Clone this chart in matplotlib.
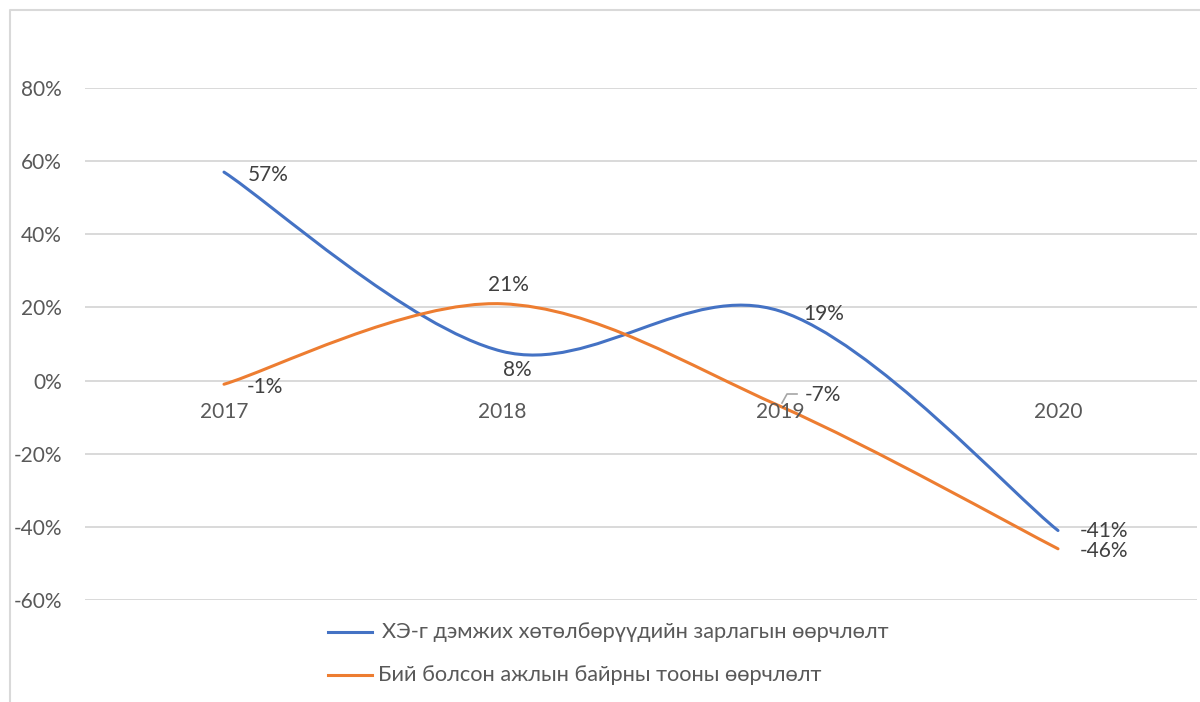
import numpy as np
import matplotlib
matplotlib.use('Agg')
import matplotlib.pyplot as plt
from matplotlib.path import Path
from matplotlib.patches import PathPatch
from matplotlib.lines import Line2D

plt.rcParams['font.family'] = ['Lato', 'DejaVu Sans']

# data
years = ['2017', '2018', '2019', '2020']
spend_change = [0.57, 0.08, 0.19, -0.41]
jobs_change = [-0.01, 0.21, -0.07, -0.46]
spend_labels = ['57%', '8%', '19%', '-41%']
jobs_labels = ['-1%', '21%', '-7%', '-46%']
series_names = ['ХЭ-г дэмжих хөтөлбөрүүдийн зарлагын өөрчлөлт',
                'Бий болсон ажлын байрны тооны өөрчлөлт']
yticks = [-0.6, -0.4, -0.2, 0.0, 0.2, 0.4, 0.6, 0.8]

blue = '#4472C4'
orange = '#ED7D31'
grey_text = '#595959'
grid_col = '#D9D9D9'

W, H = 1200, 702
fig = plt.figure(figsize=(W / 100, H / 100), dpi=100)
ax = fig.add_axes([85 / W, (H - 600) / H, 1112 / W, 512 / H])


def smooth_path(xs, ys):
    # excel-like smoothed line: cubic bezier, catmull-rom style tangents
    pts = np.column_stack([xs, ys]).astype(float)
    ext = np.vstack([pts[0], pts, pts[-1]])
    verts = [pts[0]]
    codes = [Path.MOVETO]
    for i in range(len(pts) - 1):
        p0, p1, p2, p3 = ext[i], ext[i + 1], ext[i + 2], ext[i + 3]
        c1 = p1 + (p2 - p0) / 6
        c2 = p2 - (p3 - p1) / 6
        verts += [c1, c2, p2]
        codes += [Path.CURVE4] * 3
    return Path(verts, codes)


x = np.arange(len(years))

for yv in yticks:
    ax.axhline(yv, color=grid_col, lw=1.4, zorder=1)

for vals, col in [(spend_change, blue), (jobs_change, orange)]:
    ax.add_patch(PathPatch(smooth_path(x, vals), facecolor='none',
                           edgecolor=col, lw=2.2, capstyle='round',
                           zorder=3))

ax.set_xlim(-0.5, len(years) - 0.5)
ax.set_ylim(-0.6, 0.8)
ax.set_yticks(yticks)
ax.set_yticklabels(['{:.0f}%'.format(v * 100) for v in yticks])
ax.set_xticks([])
ax.tick_params(axis='y', length=0, pad=16.5, labelsize=15,
               labelcolor=grey_text)
for s in ax.spines.values():
    s.set_visible(False)

# category labels sit just under the zero line
for i, yr in enumerate(years):
    ax.annotate(yr, xy=(i, 0), xytext=(0, -31 * 0.72),
                textcoords='offset points', ha='center', va='center',
                fontsize=15, color=grey_text, zorder=4)

# data labels (offsets in pixels)
spend_off = [(24, -3, 'left'), (15, -19, 'center'), (23, -3, 'left'),
             (22, 0, 'left')]
jobs_off = [(23, -3, 'left'), (6, 19, 'center'), (25, 11, 'left'),
            (22, -2, 'left')]
for vals, labs, offs in [(spend_change, spend_labels, spend_off),
                         (jobs_change, jobs_labels, jobs_off)]:
    for i, (v, lab, (dx, dy, ha)) in enumerate(zip(vals, labs, offs)):
        ax.annotate(lab, xy=(i, v), xytext=(dx * 0.72, dy * 0.72),
                    textcoords='offset points', ha=ha, va='center',
                    fontsize=15, color='#404040', zorder=5)

# leader line for the -7% label
fig.add_artist(Line2D([782 / W, 787 / W, 797 / W],
                      [1 - 403 / H, 1 - 394 / H, 1 - 394 / H],
                      color='#A6A6A6', lw=1.2))

# legend
for k, (name, col, ly, tx) in enumerate([(series_names[0], blue, 632, 382),
                                         (series_names[1], orange, 675, 378)]):
    fig.add_artist(Line2D([328 / W, 372 / W], [1 - ly / H, 1 - ly / H],
                          color=col, lw=2.2))
    fig.text(tx / W, 1 - ly / H, name, ha='left', va='center',
             fontsize=15.7, color=grey_text)

# chart border (left and top)
fig.add_artist(Line2D([10 / W, 10 / W, 1.0], [0.0, 1 - 10 / H, 1 - 10 / H],
                      color=grid_col, lw=1.5))

fig.savefig('out.png', dpi=100)
